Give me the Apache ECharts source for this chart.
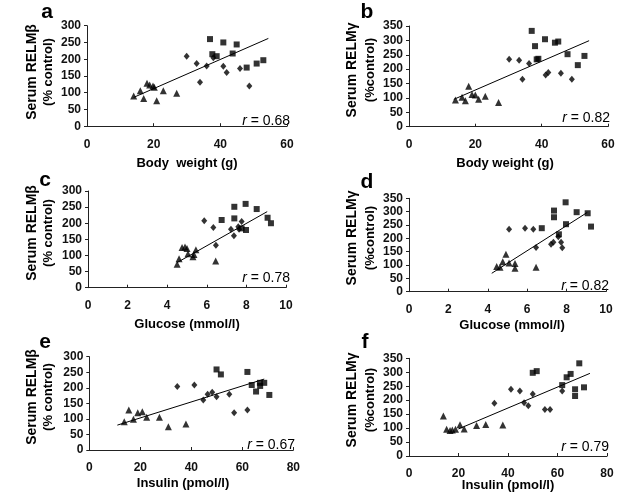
<!DOCTYPE html>
<html><head><meta charset="utf-8">
<script src="https://cdn.jsdelivr.net/npm/echarts@6/dist/echarts.min.js"></script>
<style>html,body{margin:0;padding:0;background:#fff}#c{width:619px;height:497px}</style>
</head><body><div id="c"></div>
<script>
// Panel a: Body weight vs RELMbeta
const aTri = [[14,90],[16,106],[17,83],[18,128],[18.8,123],[19.8,120],[20.2,116],[20.9,76],[22.9,106],[26.9,98]];
const aDia = [[29.9,209],[32.9,187],[33.9,131],[35.9,180],[37.9,204],[40.9,179],[41.9,160],[45.9,172],[48.7,120]];
const aSq  = [[36.9,260],[37.6,215],[38.9,209],[40.9,250],[43.7,217],[44.9,244],[47.9,175],[50.9,187],[52.9,197]];
const aFit = [[14,86],[54.4,262]];
// Panel b: Body weight vs RELMgamma
const bTri = [[14,93],[16,102],[17,90],[18,141],[19,112],[20,110],[21,95],[23,106],[27,84]];
const bDia = [[30.2,234],[33.2,231],[34.2,165],[36.2,220],[41.2,180],[42,188],[45.8,186],[49.1,165]];
const bSq  = [[37,333],[38,280],[38.5,234],[39,236],[41,304],[44,292],[45,296],[47.8,252],[50.9,214],[52.9,246]];
const bFit = [[13.5,95],[54.3,299]];
// Panel c: Glucose vs RELMbeta
const cTri = [[4.5,73],[4.6,90],[4.75,125],[4.9,126],[5.0,122],[5.05,105],[5.3,96],[5.35,103],[5.45,118],[6.45,83]];
const cDia = [[5.87,208],[6.33,187],[6.46,132],[7.22,181],[7.37,161],[7.59,189],[7.63,181],[7.76,205]];
const cSq  = [[6.75,210],[7.39,251],[7.39,215],[7.76,184],[7.96,260],[7.98,179],[8.52,244],[9.07,217],[9.24,200]];
const cFit = [[4.5,78],[9.05,236]];
// Panel d: Glucose vs RELMgamma
const dTri = [[4.45,94],[4.62,92],[4.76,112],[4.92,140],[5.08,108],[5.38,106],[5.38,88],[6.45,92]];
const dDia = [[5.08,234],[5.89,238],[6.31,234],[6.45,166],[7.21,178],[7.33,185],[7.58,206],[7.72,185],[7.78,165]];
const dSq  = [[6.74,238],[7.36,304],[7.36,279],[7.61,215],[7.95,335],[7.97,253],[8.51,298],[9.07,294],[9.24,244]];
const dFit = [[4.2,69],[9.05,297]];
// Panel e: Insulin vs RELMbeta
const eTri = [[13.7,91],[15.5,129],[17.3,99],[19,120],[20.8,123],[22.5,105],[27.5,105],[31,75],[37.9,84]];
const eDia = [[34.5,204],[41.2,209],[44.7,161],[46.4,179],[48.2,186],[49.9,171],[54.9,179],[56.8,120],[62,129]];
const eSq  = [[49.9,259],[51.6,243],[62,251],[63.7,209],[65.4,188],[66.9,216],[67,206],[68.6,216],[70.6,177]];
const eFit = [[11,80],[68.6,228]];
// Panel f: Insulin vs RELMgamma
const fTri = [[13.9,143],[15.2,96],[16.6,91],[17.5,93],[18.8,96],[20.6,112],[22.3,97],[27.3,109],[31,113],[37.9,111]];
const fDia = [[34.5,189],[41.2,239],[44.8,233],[46.5,191],[48.2,180],[50,222],[54.9,167],[57,167],[61.9,233]];
const fSq  = [[50,298],[51.6,304],[61.9,254],[63.7,282],[65.3,294],[67.1,239],[67.1,215],[68.8,332],[70.7,246]];
const fFit = [[20,97],[73.1,296]];

const panelLetters = ['a','b','c','d','e','f'];
const xTitles = ['Body  weight (g)','Body weight (g)','Glucose (mmol/l)','Glucose (mmol/l)','Insulin (pmol/l)','Insulin (pmol/l)'];
const yTitle1 = ['Serum RELMβ','Serum RELMγ','Serum RELMβ','Serum RELMγ','Serum RELMβ','Serum RELMγ'];
const yTitle2 = ['(% control)','(%control)','(% control)','(%control)','(% control)','(%control)'];
const rValues = ['0.68','0.82','0.78','0.82','0.67','0.79'];
const xRanges = [[0,60,20],[0,60,20],[0,10,2],[0,10,2],[0,80,20],[0,80,20]];
const yRanges = [[0,300,50],[0,350,50],[0,300,50],[0,350,50],[0,300,50],[0,350,50]];

const tri = [aTri,bTri,cTri,dTri,eTri,fTri];
const dia = [aDia,bDia,cDia,dDia,eDia,fDia];
const sq  = [aSq,bSq,cSq,dSq,eSq,fSq];
const fit = [aFit,bFit,cFit,dFit,eFit,fFit];

// layout
const grids = [
  {left:87, top:25.7, width:200, height:100.5},
  {left:409, top:26, width:199, height:100.7},
  {left:88, top:191, width:198, height:96.7},
  {left:409, top:198.3, width:197, height:93.4},
  {left:89.3, top:356.7, width:204, height:93.3},
  {left:409, top:358.3, width:198, height:97.7}
];
const letterPos = [[47,12],[367,12],[45,180],[367,182],[45,342],[365,342]];
const xTitlePos = [[187,163],[505,163],[187,324],[512,325],[183,483],[508,485]];
const yTitlePos = [[32,48,72],[352,370,70],[32,48,233],[352,370,238],[32,48,397],[352,370,400]];
const rPos = [[290,121],[610,118],[290,278],[609,286],[295,445],[609,447]];

const AX = '#222';
const font = '"Liberation Sans", Arial, sans-serif';
const xAxis = [], yAxis = [], series = [], graphic = [];
function txt(x, y, text, fnt, align, rot, rich){
  const el = {type:'text', x:x, y:y, style:{text:text, font:fnt, fill:'#000',
    textAlign:align, textVerticalAlign:'middle', align:align, verticalAlign:'middle'}};
  if (rot) el.rotation = rot;
  if (rich) el.style.rich = rich;
  return el;
}
for (let i=0;i<6;i++){
  xAxis.push({gridIndex:i, type:'value', min:xRanges[i][0], max:xRanges[i][1], interval:xRanges[i][2],
    axisLine:{lineStyle:{color:AX,width:1}}, axisTick:{show:true,inside:true,length:3,lineStyle:{color:AX}},
    splitLine:{show:false}, axisLabel:{color:'#111', fontFamily:font, fontWeight:'bold', fontSize:12, margin:12}});
  yAxis.push({gridIndex:i, type:'value', min:yRanges[i][0], max:yRanges[i][1], interval:yRanges[i][2],
    axisLine:{show:true,lineStyle:{color:AX,width:1}}, axisTick:{show:true,length:3,lineStyle:{color:AX}},
    splitLine:{show:false}, axisLabel:{color:'#111', fontFamily:font, fontWeight:'bold', fontSize:12, margin:6}});
  series.push({type:'scatter', xAxisIndex:i, yAxisIndex:i, data:tri[i], symbol:'triangle', symbolSize:7, itemStyle:{color:'#000'}});
  series.push({type:'scatter', xAxisIndex:i, yAxisIndex:i, data:dia[i], symbol:'diamond', symbolSize:[6,7], itemStyle:{color:'#000'}});
  series.push({type:'scatter', xAxisIndex:i, yAxisIndex:i, data:sq[i], symbol:'rect', symbolSize:6, itemStyle:{color:'#000'}});
  series.push({type:'line', xAxisIndex:i, yAxisIndex:i, data:fit[i], showSymbol:false, symbol:'none', lineStyle:{color:'#000',width:1}, z:1});
  graphic.push(txt(letterPos[i][0], letterPos[i][1], panelLetters[i], 'bold 21px '+font, 'center'));
  graphic.push(txt(xTitlePos[i][0], xTitlePos[i][1], xTitles[i], 'bold 13px '+font, 'center'));
  graphic.push(txt(yTitlePos[i][0], yTitlePos[i][2], yTitle1[i], 'bold 14px '+font, 'center', Math.PI/2));
  graphic.push(txt(yTitlePos[i][1], yTitlePos[i][2], yTitle2[i], 'bold 13px '+font, 'center', Math.PI/2));
  graphic.push(txt(rPos[i][0], rPos[i][1], '{i|r} = '+rValues[i], '14px '+font, 'right', 0,
    {i:{fontStyle:'italic', fontSize:14, fontFamily:font}}));
}
const chart = echarts.init(document.getElementById('c'), null, {renderer:'canvas'});
chart.setOption({animation:false, backgroundColor:'#fff', grid:grids, xAxis, yAxis, series, graphic});
</script></body></html>
